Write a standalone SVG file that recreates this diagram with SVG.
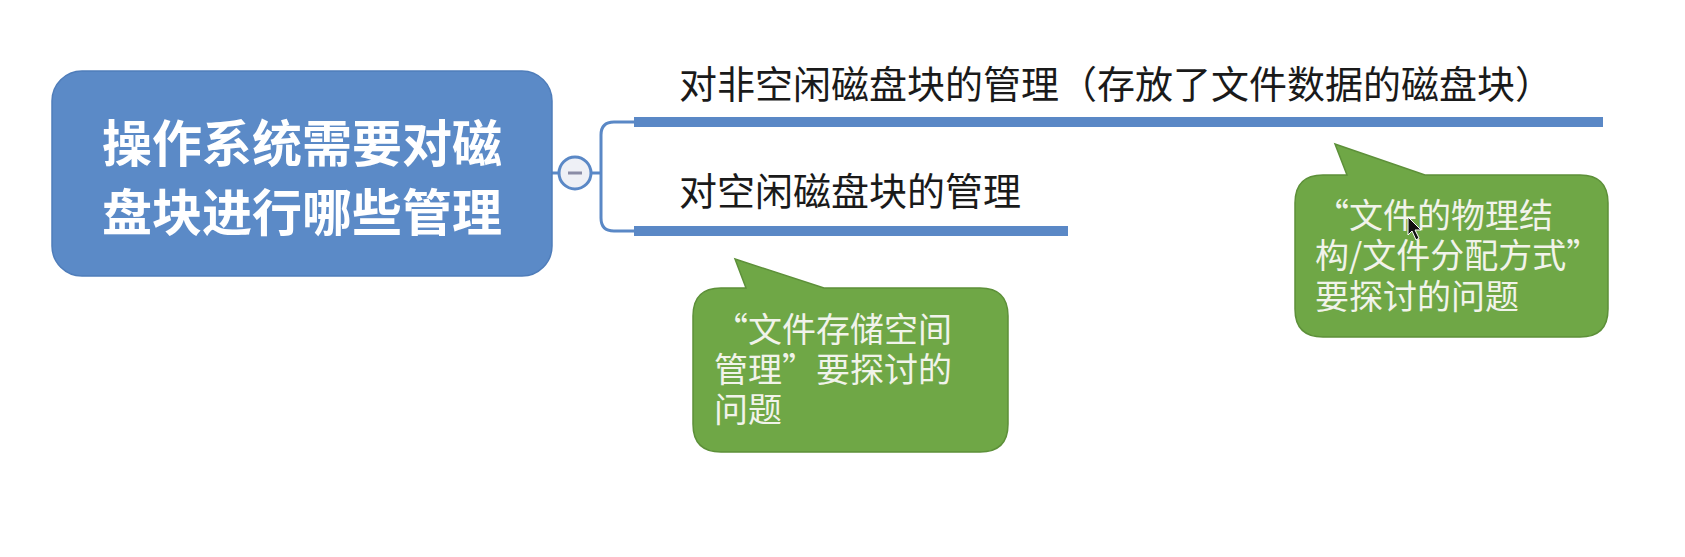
<svg xmlns="http://www.w3.org/2000/svg" width="1685" height="557" viewBox="0 0 1685 557">
<style>
.root-box{fill:#5b8ac7;stroke:#4f7dba;stroke-width:1.5}
.root-text{font-family:"Noto Sans CJK SC","Noto Sans",sans-serif;font-weight:bold;font-size:50px;fill:#ffffff;text-anchor:middle}
.topic{font-family:"Noto Sans CJK SC","Noto Sans",sans-serif;font-size:38px;fill:#1a1a1a}
.bar{stroke:#5a88c6;stroke-width:10;fill:none}
.thin{stroke:#5a88c6;stroke-width:3;fill:none}
.callout{fill:#6fa746;stroke:#5d9039;stroke-width:1.5}
.note{font-family:"Noto Sans CJK SC","Noto Sans",sans-serif;font-size:34px;fill:#f1f3ea}
</style>
<rect width="1685" height="557" fill="#ffffff"/>
<g id="connectors">
<path class="thin" d="M552 173 H559"/>
<path class="thin" d="M591 173 H601"/>
<path class="thin" d="M637 122 H614 Q601 122 601 135 V218 Q601 231 614 231 H637"/>
<line class="bar" x1="634" y1="122" x2="1603" y2="122"/>
<line class="bar" x1="634" y1="231" x2="1068" y2="231"/>
</g>
<g id="root">
<rect class="root-box" x="52" y="71" width="500" height="205" rx="30" ry="30"/>
<text class="root-text" x="302" y="162">操作系统需要对磁</text>
<text class="root-text" x="302" y="231">盘块进行哪些管理</text>
</g>
<g id="collapse">
<circle cx="575" cy="173" r="16" fill="#eef0f6" stroke="#5a88c6" stroke-width="3"/>
<line x1="568" y1="173" x2="582" y2="173" stroke="#8a8ca6" stroke-width="3"/>
</g>
<g id="topic-nonfree">
<text class="topic" x="679" y="98">对非空闲磁盘块的管理（存放了文件数据的磁盘块）</text>
</g>
<g id="topic-free">
<text class="topic" x="679" y="205">对空闲磁盘块的管理</text>
</g>
<g id="note-free">
<path class="callout" d="M721 288 H746 L735 259 L824 288 H980 Q1008 288 1008 316 V424 Q1008 452 980 452 H721 Q693 452 693 424 V316 Q693 288 721 288 Z"/>
<text class="note" x="714" y="342">“文件存储空间</text>
<text class="note" x="714" y="382">管理”要探讨的</text>
<text class="note" x="714" y="422">问题</text>
</g>
<g id="note-nonfree">
<path class="callout" d="M1323 175 H1347 L1335 144 L1425 175 H1580 Q1608 175 1608 203 V309 Q1608 337 1580 337 H1323 Q1295 337 1295 309 V203 Q1295 175 1323 175 Z"/>
<text class="note" x="1315" y="228">“文件的物理结</text>
<text class="note" x="1315" y="268">构/文件分配方式”</text>
<text class="note" x="1315" y="309">要探讨的问题</text>
</g>
<path d="M1408 217 V235 L1412 231 L1416 240 L1419 238 L1415 230 L1421 230 Z" fill="#111111" stroke="#ffffff" stroke-width="1"/>
</svg>
